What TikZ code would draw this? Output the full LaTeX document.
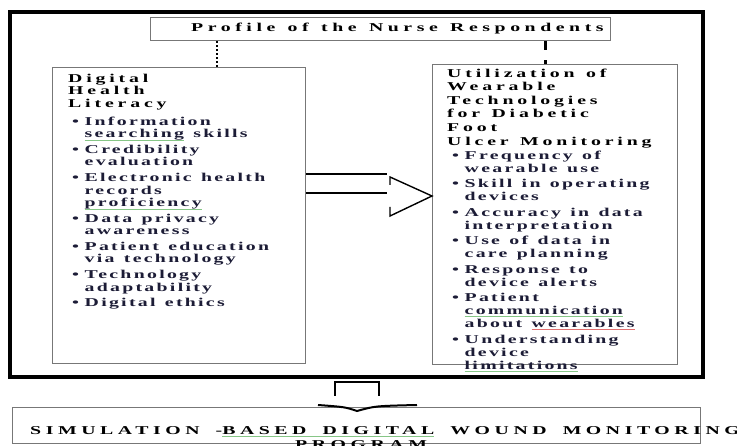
\documentclass[tikz,border=0pt]{standalone}
\usepackage{fontspec}
\setmainfont{Liberation Serif}
% widened, letter-spaced serif faces
\newfontfamily\bodyface{Liberation Serif}[FakeStretch=1.65,LetterSpace=19,WordSpace=1.3]
\newfontfamily\headface{Liberation Serif}[FakeStretch=1.65,LetterSpace=32,WordSpace=1.3]
\newfontfamily\profileface{Liberation Serif}[FakeStretch=1.65,LetterSpace=38,WordSpace=1.4]
\newfontfamily\bannerface{Liberation Serif}[FakeStretch=1.65,LetterSpace=38,WordSpace=1.3]
\definecolor{ink}{HTML}{1C1C36}
\definecolor{boxgray}{HTML}{777777}
\definecolor{spellgreen}{HTML}{86C686}
\definecolor{spellred}{HTML}{E07070}
% word with a thin proofing underline
\newcommand\squig[2]{\setbox0=\hbox{#2}\rlap{\color{#1}\rule[-2.4pt]{\wd0}{0.6pt}}\box0\relax}
\newcommand\bul{\makebox[12.5pt][l]{•}}
\newcommand\ind{\hspace*{12.5pt}}
\tikzset{
  frame/.style={draw=black, line width=3.2pt},
  graybox/.style={draw=boxgray, line width=1.1pt, inner sep=0pt, anchor=north west},
  txt/.style={anchor=north west, inner sep=0pt, align=left},
  dotline/.style={draw=black, line width=2.2pt, dash pattern=on 2pt off 2pt},
  dashline/.style={draw=black, line width=3pt, dash pattern=on 9pt off 10pt},
  blockarrow/.style={draw=black, line width=1.4pt},
  downarrow/.style={draw=black, line width=2.4pt},
}
\begin{document}
\begin{tikzpicture}[x=1pt,y=-1pt]
\useasboundingbox (0,0) rectangle (737,446);
\fill[white] (0,0) rectangle (737,446);

% outer frame
\draw[frame] (10,12) rectangle (703,377);

% boxes
\node[graybox, minimum width=460pt, minimum height=23pt] (profile) at (150,17) {};
\node[graybox, minimum width=253pt, minimum height=296pt] (literacy) at (52,67) {};
\node[graybox, minimum width=245pt, minimum height=300pt] (wearable) at (432,64) {};
\node[graybox, minimum width=688pt, minimum height=36pt] (program) at (12,407) {};

% links from the profile box
\coordinate (dotx) at (217,0);
\coordinate (dashx) at (545,0);
\draw[dotline] (profile.south -| dotx) -- (literacy.north -| dotx);
\draw[dashline] (profile.south -| dashx) -- (wearable.north -| dashx);

% hollow arrow between the two boxes
\draw[blockarrow] (literacy.east |- 0,174) -- (387,174);
\draw[blockarrow] (literacy.east |- 0,193) -- (387,193);
\draw[blockarrow] (390,185) -- (390,177) -- (wearable.west |- 0,196) -- (390,216) -- (390,207);

% arrow down to the program box
\draw[downarrow] (335,396) -- (335,382) -- (379,382) -- (379,396);
\draw[draw=black, line width=2pt] (318,405) .. controls (345,407) .. (357,411) .. controls (375,406) .. (417,405);

% texts
\node[txt, font=\profileface\bfseries\fontsize{12}{12.5}\selectfont] (profiletext) at (191,22)
  {\rule{0pt}{9pt}Profile of the Nurse Respondents};

\node[txt, font=\headface\bfseries\fontsize{12}{12.5}\selectfont] (littitle) at (68,73)
  {\rule{0pt}{9pt}Digital\\Health\\Literacy};

\node[txt, text=ink, font=\bodyface\bfseries\fontsize{12}{12.7}\selectfont] (lititems) at (72,116)
  {\rule{0pt}{9pt}\bul Information\\\ind\squig{spellgreen}{searching} skills\\[2.7pt]
   \bul Credibility\\\ind evaluation\\[2.7pt]
   \bul Electronic health\\\ind records\\\ind\squig{spellgreen}{proficiency}\\[2.7pt]
   \bul Data privacy\\\ind awareness\\[2.7pt]
   \bul Patient education\\\ind via technology\\[2.7pt]
   \bul Technology\\\ind adaptability\\[2.7pt]
   \bul Digital ethics};

\node[txt, font=\headface\bfseries\fontsize{12}{13.6}\selectfont] (weartitle) at (447,68)
  {\rule{0pt}{9pt}Utilization of\\Wearable\\Technologies\\for Diabetic\\Foot\\Ulcer Monitoring};

\node[txt, text=ink, font=\bodyface\bfseries\fontsize{12}{13}\selectfont] (wearitems) at (452,150)
  {\rule{0pt}{9pt}\bul Frequency of\\\ind wearable use\\[2.5pt]
   \bul Skill in operating\\\ind devices\\[2.5pt]
   \bul Accuracy in data\\\ind interpretation\\[2.5pt]
   \bul Use of data in\\\ind care planning\\[2.5pt]
   \bul Response to\\\ind device alerts\\[2.5pt]
   \bul Patient\\\ind\squig{spellgreen}{communication}\\\ind about \squig{spellred}{wearables}\\[2.5pt]
   \bul Understanding\\\ind device\\\ind\squig{spellgreen}{limitations}};

\node[txt, font=\bannerface\bfseries\fontsize{12}{12.5}\selectfont] (bannerA) at (30,425)
  {\rule{0pt}{9pt}SIMULATION -\squig{spellgreen}{BASED DIGITAL} WOUND MONITORING};
\node[txt, font=\bannerface\bfseries\fontsize{12}{12.5}\selectfont] (bannerB) at (295,439)
  {\rule{0pt}{9pt}PROGRAM};
\end{tikzpicture}
\end{document}
